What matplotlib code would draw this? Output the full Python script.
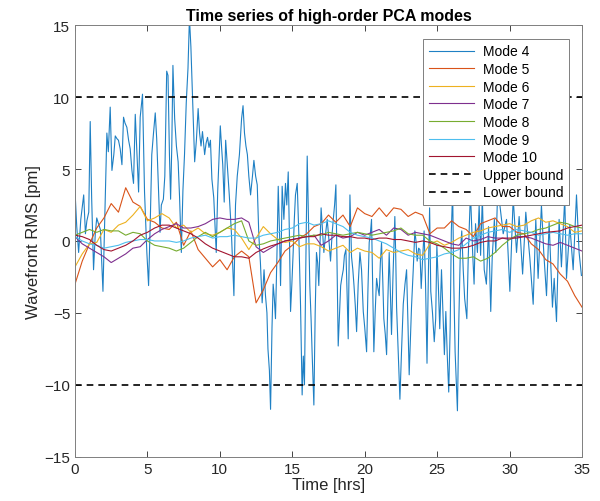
import numpy as np
import matplotlib
matplotlib.use('Agg')
import matplotlib.pyplot as plt

plt.rcParams['font.family'] = ['Liberation Sans', 'DejaVu Sans']

# ── Mode 4: the large, spiky one ───────────────────────────────────
t4 = [0.0, 0.12, 0.25, 0.4, 0.6, 0.72, 0.82, 0.95, 1.05, 1.15, 1.28, 1.4, 1.5, 1.62, 1.75, 1.93,
      2.05, 2.2, 2.3, 2.43, 2.55, 2.68, 2.78, 2.9, 3.0, 3.12, 3.24, 3.35, 3.45, 3.58, 3.7, 3.81,
      3.93, 4.04, 4.16, 4.28, 4.39, 4.5, 4.66, 4.8, 4.96, 5.08, 5.2, 5.3, 5.42, 5.54, 5.64, 5.75,
      5.87, 5.96, 6.1, 6.2, 6.33, 6.42, 6.52, 6.6, 6.68, 6.76, 6.88, 7.0, 7.12, 7.22, 7.34, 7.45,
      7.56, 7.68, 7.8, 7.9, 8.0, 8.1, 8.26, 8.38, 8.5, 8.6, 8.7, 8.8, 8.9, 8.95, 9.05, 9.15,
      9.25, 9.35, 9.45, 9.58, 9.75, 9.85, 9.95, 10.03, 10.12, 10.2, 10.3, 10.4, 10.5, 10.65, 10.8, 10.97,
      11.08, 11.2, 11.35, 11.5, 11.6, 11.7, 11.8, 11.9, 12.0, 12.12, 12.25, 12.35, 12.47, 12.58, 12.69, 12.8,
      12.92, 13.05, 13.15, 13.25, 13.32, 13.42, 13.5, 13.6, 13.68, 13.76, 13.84, 13.94, 14.03, 14.12, 14.19, 14.26,
      14.3, 14.42, 14.53, 14.62, 14.72, 14.8, 14.88, 14.97, 15.06, 15.14, 15.22, 15.34, 15.45, 15.57, 15.68, 15.76,
      15.84, 15.93, 16.03, 16.12, 16.21, 16.3, 16.37, 16.49, 16.58, 16.67, 16.75, 16.83, 16.92, 16.99, 17.08, 17.18,
      17.3, 17.41, 17.52, 17.64, 17.75, 17.83, 17.92, 18.01, 18.09, 18.17, 18.26, 18.34, 18.43, 18.52, 18.6, 18.7,
      18.78, 18.86, 18.93, 18.98, 19.09, 19.18, 19.26, 19.35, 19.44, 19.55, 19.67, 19.78, 19.9, 20.0, 20.13, 20.22,
      20.31, 20.39, 20.47, 20.55, 20.63, 20.72, 20.82, 20.9, 21.0, 21.08, 21.16, 21.24, 21.32, 21.42, 21.51, 21.6,
      21.69, 21.77, 21.85, 21.95, 22.08, 22.14, 22.2, 22.32, 22.43, 22.54, 22.66, 22.78, 22.89, 22.98, 23.07, 23.15,
      23.23, 23.35, 23.46, 23.54, 23.62, 23.72, 23.81, 23.9, 24.0, 24.1, 24.2, 24.3, 24.4, 24.48, 24.56, 24.68,
      24.8, 24.9, 24.98, 25.08, 25.18, 25.3, 25.4, 25.5, 25.6, 25.7, 25.8, 25.9, 25.98, 26.07, 26.15, 26.24,
      26.4, 26.5, 26.6, 26.7, 26.8, 26.9, 27.05, 27.15, 27.3, 27.45, 27.55, 27.65, 27.78, 27.9, 28.0, 28.12,
      28.25, 28.4, 28.55, 28.7, 28.8, 28.95, 29.05, 29.18, 29.33, 29.56, 29.79, 30.02, 30.25, 30.48, 30.66, 30.9,
      31.12, 31.4, 31.63, 31.81, 31.97, 32.2, 32.36, 32.55, 32.73, 32.96, 33.08, 33.24, 33.42, 33.58, 33.81, 33.93,
      34.16, 34.39, 34.62, 34.8, 34.96]
mode4 = [3.5, 1.0, -0.8, 1.5, 3.2, 0.5, 1.4, 2.0, 8.3, 3.0, -2.0, 0.5, 1.6, 1.2, 0.8, -3.5,
         1.5, 7.5, 6.2, 9.3, 4.9, 6.0, 7.3, 7.1, 7.0, 6.4, 5.3, 8.6, 8.2, 7.9, 7.0, 6.4,
         4.9, 4.0, 8.8, 6.0, 3.4, 8.6, 10.2, 3.4, -0.8, -3.1, 1.5, 6.0, 7.5, 8.9, 7.1, 4.0,
         0.6, 2.5, 2.9, 4.5, 11.8, 11.5, 6.0, 2.9, 6.5, 12.2, 8.5, 6.6, 5.5, 3.0, -0.8, 3.5,
         6.0, 9.6, 12.0, 15.5, 13.5, 10.5, 5.5, 7.0, 9.2, 7.5, 6.6, 7.6, 6.5, 6.0, 6.8, 7.2,
         6.5, 7.0, 4.3, 3.0, -0.8, 3.4, 6.0, 8.0, 6.5, 5.3, 2.7, 7.0, 5.5, 3.2, 0.5, -3.8,
         2.5, 4.5, 6.0, 8.5, 9.4, 7.5, 6.6, 6.0, 4.5, 3.2, 4.5, 5.6, 4.5, 3.9, 0.4, -1.5,
         -4.3, -2.0, -3.8, -5.0, -7.5, -9.0, -11.7, -6.0, -3.0, -4.0, -5.4, -1.0, 3.8, 0.5, -3.1, 1.0,
         3.8, 1.5, 4.0, 2.5, 4.8, 0.5, -4.9, -3.0, -0.8, 1.5, 3.2, 4.0, 0.5, -4.5, -10.7, -8.0,
         -10.0, -2.0, 5.9, 1.5, -3.1, -5.5, -7.8, -11.4, -5.0, -0.8, -1.5, -3.1, 0.0, 2.3, 0.8, -0.8,
         0.5, 1.5, 0.2, -1.4, 0.5, 1.5, 2.5, 3.9, -1.5, -7.3, -5.0, -3.1, -2.5, -2.0, -1.0, -0.6,
         -3.5, -6.8, -1.0, 3.2, -1.1, -2.0, -3.1, -4.5, -6.3, -3.0, -0.8, -2.0, -4.9, -6.0, -7.7, -3.5,
         -0.1, 0.5, 1.5, -3.0, -7.7, -5.0, -2.6, -3.2, -3.8, -1.5, -0.1, -2.5, -5.4, -6.5, -7.9, -4.0,
         -0.8, -3.5, -6.5, -2.5, 1.7, -1.0, -4.6, -8.0, -11.0, -7.7, -4.4, -3.0, -2.0, -5.5, -9.3, -7.0,
         -4.6, -2.0, 0.7, 0.0, -1.4, -0.5, -0.6, -3.3, -1.2, 0.7, -3.0, -8.5, -2.0, 2.3, -3.5, -5.0,
         -7.0, -5.4, -0.3, -3.0, -6.1, -2.0, -5.0, -7.9, -4.9, -8.0, -10.5, -6.0, 0.7, 3.5, -3.0, -7.7,
         -11.8, -5.4, -0.8, 0.7, -2.0, -4.0, -5.4, -1.0, 3.4, -0.8, -3.0, 1.2, -0.8, 2.5, -1.0, 3.0,
         -2.0, -3.0, 1.0, -4.9, -1.2, 1.5, -0.8, 3.5, 2.5, 0.5, 1.5, -3.5, 3.0, -0.8, 1.7, -2.3,
         2.0, -1.2, -4.4, 1.5, -2.6, 2.5, -0.8, -3.8, 1.3, -4.6, -2.6, -5.6, 1.5, -1.8, 3.0, -2.6,
         1.1, -2.0, 3.2, -0.8, -2.4]

# ── Modes 5-10: smaller, slowly drifting modes (half-hour readings) ─
t_slow = np.arange(0, 35.5, 0.5)
mode5 = [-3.0, -1.4, -0.2, 0.9, 1.6, 2.6, 2.0, 3.7, 2.7, 2.4, 1.5, 1.3, 0.9, 0.8, 1.3, -0.3,
         0.7, -0.6, -1.2, -1.8, -1.3, -2.0, -1.1, -0.7, -1.1, -4.3, -3.4, -2.2, -1.5, -0.7, -0.3, 0.2,
         0.5, 1.0, 1.2, 1.8, 1.3, 1.8, 1.0, 2.3, 1.9, 1.7, 2.3, 1.7, 2.3, 2.2, 1.7, 2.0,
         1.8, 0.5, 0.9, 0.9, 1.4, 1.0, 0.8, 0.3, 1.2, 1.4, 1.6, 1.0, 1.0, 0.6, 0.5, -0.2,
         -0.6, -1.3, -1.6, -2.3, -2.8, -3.8, -4.6]
mode6 = [-1.8, -0.9, -0.2, -0.1, 0.8, 0.6, 1.1, 1.3, 1.8, 2.4, 1.4, 1.6, 1.9, 1.6, 0.9, 1.1,
         0.6, 0.9, 0.5, 0.4, 0.6, 0.9, 0.8, 0.2, -0.6, 0.2, 1.0, 0.5, 0.1, -0.1, 0.0, -0.4,
         -0.2, -0.2, -0.4, -0.7, -0.5, -0.3, -0.8, -0.5, -0.7, -0.8, -1.2, -0.6, -0.8, -0.7, -0.6, -0.9,
         -1.0, -0.2, 0.0, -0.3, -0.1, 0.2, 0.4, 0.6, 0.7, 0.9, 1.0, 1.1, 1.2, 1.0, 1.1, 1.4,
         1.6, 1.3, 1.4, 1.2, 1.0, 0.6, 0.7]
mode7 = [0.3, -0.2, -0.5, -0.8, -1.1, -1.5, -1.2, -0.9, -0.5, -0.4, 0.1, 0.5, 0.8, 1.0, 1.2, 0.9,
         0.9, 1.0, 1.2, 1.5, 1.6, 1.5, 1.5, 1.6, 1.3, -0.4, -0.8, -0.5, -0.2, 0.0, 0.1, 0.2,
         0.3, 0.4, -0.3, 0.0, 0.4, 0.2, 0.3, 0.6, 0.4, 0.6, 0.8, 0.4, 0.9, 0.8, 0.4, 0.6,
         0.5, 0.4, 0.2, 0.0, -0.2, -0.3, 0.2, 0.0, 0.1, 0.3, 0.2, 0.2, 0.1, 0.3, 0.3, 0.2,
         0.0, -0.2, -0.3, -0.1, -0.3, -0.5, -0.7]
mode8 = [0.4, 0.6, 0.8, 0.6, 0.8, 0.7, 0.7, 0.4, 0.6, 0.5, 0.0, -0.3, -0.4, -0.5, -0.7, -0.5,
         -0.1, 0.3, 0.6, 0.3, 0.6, 0.9, 1.2, 1.4, 0.0, -0.3, -0.2, 0.0, 0.1, 0.2, 0.3, 0.4,
         0.3, 0.4, 0.4, 0.6, 0.5, 0.4, 0.5, 0.6, 0.5, 0.4, 0.5, 0.6, 0.7, 0.9, 0.5, 0.4,
         0.4, 0.0, -0.2, -0.5, -0.9, -1.2, -1.2, -1.1, -1.4, -1.2, -0.8, -0.3, 0.1, 0.4, 0.5, 0.6,
         0.8, 0.9, 1.1, 1.3, 1.2, 1.0, 0.9]
mode9 = [0.3, 0.0, -0.2, -0.3, -0.5, -0.4, -0.3, -0.1, 0.0, 0.1, 0.1, 0.0, 0.0, 0.0, -0.1, 0.0,
         0.2, 0.3, 0.4, 0.2, 0.3, 0.3, 0.4, 0.3, 0.2, 0.2, 0.4, 0.5, 0.6, 0.8, 0.9, 1.2,
         1.3, 1.1, 1.2, 1.4, 1.2, 1.0, 0.6, 0.4, 0.3, 0.2, 0.0, -0.2, -0.5, -0.8, -1.0, -1.1,
         -1.3, -1.2, -1.1, -0.9, -0.8, -0.6, -0.2, 0.2, 0.4, 0.6, 0.7, 0.8, 0.6, 0.8, 0.7, 0.6,
         0.4, 0.5, 0.6, 0.5, 0.4, 0.5, 0.5]
mode10 = [0.4, 0.3, 0.1, -0.3, -0.6, -0.7, -0.5, -0.3, 0.0, 0.4, 0.6, 0.9, 1.1, 1.1, 0.9, 0.7,
          0.5, 0.2, -0.2, -0.5, -0.7, -0.9, -1.1, -1.1, -1.2, -0.8, -0.55, -0.35, -0.2, 0.0, 0.1, 0.2,
          0.3, 0.3, 0.5, 0.4, 0.4, 0.3, 0.3, 0.2, 0.2, 0.1, 0.2, 0.2, 0.1, 0.1, 0.0, -0.1,
          0.0, -0.1, -0.3, -0.4, -0.5, -0.5, -0.45, -0.3, -0.1, 0.0, 0.0, 0.2, 0.2, 0.2, 0.3, 0.4,
          0.5, 0.6, 0.65, 0.7, 0.9, 1.0, 1.1]

UPPER, LOWER = 10, -10

slow_modes = [("Mode 5", mode5, "#D95319"), ("Mode 6", mode6, "#EDB120"),
              ("Mode 7", mode7, "#7E2F8E"), ("Mode 8", mode8, "#77AC30"),
              ("Mode 9", mode9, "#4DBEEE"), ("Mode 10", mode10, "#A2142F")]

fig = plt.figure(figsize=(6.0, 5.02), dpi=100)
ax = fig.add_axes([0.125, 0.088, 0.845, 0.86])

ax.plot(t4, mode4, color="#1f80c4", linewidth=0.8, label="Mode 4")
for name, vals, col in slow_modes:
    ax.plot(t_slow, vals, color=col, linewidth=0.8, label=name)
ax.axhline(UPPER, color='k', linestyle=(0, (4, 3)), linewidth=1.2, label="Upper bound")
ax.axhline(LOWER, color='k', linestyle=(0, (4, 3)), linewidth=1.2, label="Lower bound")

ax.set_xlim(0, 35)
ax.set_ylim(-15, 15)
ax.set_xticks(np.arange(0, 36, 5))
ax.set_yticks(np.arange(-15, 16, 5))
ax.tick_params(direction='in', top=True, right=True, length=4, width=0.6,
               labelsize=11, colors='#262626')
for s in ax.spines.values():
    s.set_color('#7f7f7f')
    s.set_linewidth(0.7)

ax.set_xlabel("Time [hrs]", fontsize=12, color='#262626', labelpad=1)
ax.set_ylabel("Wavefront RMS [pm]", fontsize=12, color='#262626', labelpad=2)
ax.set_title("Time series of high-order PCA modes", fontsize=11.5, fontweight='bold', pad=4)

leg = ax.legend(loc='upper right', bbox_to_anchor=(0.974, 0.968), fontsize=10,
                frameon=True, fancybox=False, framealpha=1, edgecolor='#7f7f7f',
                handlelength=3.3, handletextpad=0.6, labelspacing=0.26,
                borderpad=0.4, borderaxespad=0)
leg.get_frame().set_linewidth(0.7)

fig.savefig("out.png", dpi=100)
